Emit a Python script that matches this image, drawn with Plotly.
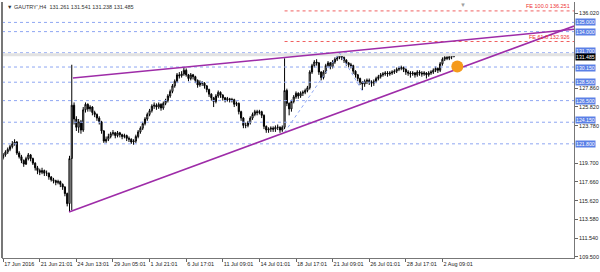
import plotly.graph_objects as go

# ---------------- data ----------------
first_open = 120.3
closes = [
    120.6, 120.9, 121.2, 121.5, 121.8, 122.0, 120.8, 120.4, 120.0, 119.6,
    120.2, 120.6, 120.2, 119.7, 119.2, 118.9, 118.7, 118.9, 118.6, 118.6,
    118.2, 117.9, 117.8, 117.6, 117.7, 117.4, 117.1, 116.4, 115.3, 120.2,
    126.0, 124.5, 123.6, 124.2, 123.3, 125.5, 126.1, 125.6, 125.8, 125.2,
    125.0, 124.6, 124.2, 123.2, 122.1, 122.3, 122.6, 122.9, 123.0, 122.7,
    123.0, 122.8, 122.6, 122.7, 122.4, 122.3, 122.0, 122.1, 122.6, 123.1,
    123.5, 124.0, 124.5, 125.0, 125.4, 125.9, 126.0, 125.8, 126.1, 125.7,
    126.2, 126.5, 127.0, 127.5, 128.1, 128.6, 129.3, 129.2, 129.4, 129.8,
    129.3, 128.9, 129.3, 129.1, 128.7, 128.2, 128.5, 128.4, 128.1, 127.7,
    127.2, 126.8, 126.4, 127.0, 127.4, 127.1, 126.8, 126.6, 126.7, 126.6,
    126.6, 126.1, 126.2, 125.3, 124.6, 123.8, 123.8, 124.1, 124.6, 125.0,
    125.3, 125.2, 125.3, 124.9, 123.7, 123.3, 123.4, 123.5, 123.4, 123.6,
    123.6, 123.3, 123.6, 127.6, 126.2, 125.6, 126.4, 126.9, 127.3, 127.0,
    127.3, 127.4, 127.6, 127.9, 129.6, 130.3, 130.7, 130.6, 129.6, 129.0,
    129.6, 130.3, 130.6, 130.2, 130.7, 131.0, 131.2, 131.4, 131.2, 130.9,
    130.6, 130.4, 130.3, 129.7, 129.3, 128.9, 128.5, 128.3, 128.6, 128.7,
    128.5, 128.4, 128.6, 128.9, 129.1, 129.3, 129.4, 129.5, 129.4, 129.5,
    129.6, 129.7, 129.9, 130.0, 130.1, 129.9, 129.6, 129.5, 129.4, 129.5,
    129.3, 129.6, 129.5, 129.4, 129.5, 129.3, 129.5, 129.6, 129.8, 130.0,
    129.8, 130.5, 131.0, 131.2, 131.1, 131.3, 131.261, 131.485,
]
highs = [
    120.8, 121.1, 121.4, 121.7, 122.1, 122.3, 122.1, 121.0, 120.6, 120.1,
    120.4, 120.8, 120.7, 120.3, 119.8, 119.4, 119.1, 119.2, 119.0, 118.9,
    118.7, 118.3, 118.1, 117.9, 117.9, 117.8, 117.5, 117.2, 116.5, 120.5,
    130.4, 126.3, 124.8, 124.5, 124.4, 125.8, 126.3, 126.2, 126.0, 125.9,
    125.4, 125.1, 124.8, 124.3, 123.3, 122.6, 122.9, 123.1, 123.3, 123.1,
    123.2, 123.1, 122.9, 122.9, 122.8, 122.6, 122.4, 122.3, 122.8, 123.3,
    123.7, 124.2, 124.7, 125.2, 125.6, 126.1, 126.3, 126.2, 126.3, 126.2,
    126.4, 126.7, 127.2, 127.7, 128.3, 128.8, 129.5, 129.6, 129.7, 130.05,
    130.0, 129.4, 129.5, 129.4, 129.2, 128.8, 128.7, 128.6, 128.5, 128.2,
    127.8, 127.3, 126.9, 127.2, 127.6, 127.5, 127.2, 126.9, 126.9, 126.8,
    126.8, 126.7, 126.4, 126.3, 125.4, 124.7, 124.1, 124.3, 124.8, 125.2,
    125.5, 125.5, 125.5, 125.4, 125.0, 123.8, 123.6, 123.7, 123.7, 123.8,
    123.9, 123.7, 123.8, 131.1, 127.8, 126.3, 126.6, 127.1, 127.5, 127.4,
    127.5, 127.6, 127.8, 128.1, 129.8, 130.5, 130.9, 131.0, 130.7, 129.7,
    129.8, 130.5, 130.8, 130.7, 130.9, 131.2, 131.4, 131.7, 131.6, 131.3,
    131.0, 130.7, 130.6, 130.4, 129.8, 129.4, 129.0, 128.6, 128.8, 128.9,
    128.9, 128.7, 128.8, 129.1, 129.3, 129.5, 129.6, 129.7, 129.7, 129.7,
    129.8, 129.9, 130.1, 130.2, 130.3, 130.2, 130.0, 129.8, 129.7, 129.7,
    129.6, 129.8, 129.8, 129.7, 129.7, 129.6, 129.7, 129.8, 130.0, 130.2,
    130.1, 130.7, 131.2, 131.4, 131.4, 131.5, 131.5, 131.541,
]
lows = [
    120.1, 120.4, 120.7, 121.0, 121.3, 121.6, 120.6, 120.2, 119.7, 119.3,
    119.5, 120.0, 119.9, 119.5, 118.9, 118.5, 118.4, 118.5, 118.3, 118.3,
    117.9, 117.7, 117.5, 117.3, 117.4, 117.1, 116.8, 116.1, 115.0, 114.4,
    114.6, 123.9, 123.2, 123.0, 122.9, 123.1, 125.2, 125.3, 125.3, 124.9,
    124.7, 124.3, 123.9, 122.9, 121.9, 121.9, 122.1, 122.4, 122.7, 122.4,
    122.5, 122.5, 122.3, 122.4, 122.1, 122.0, 121.8, 121.7, 121.9, 122.4,
    122.9, 123.3, 123.8, 124.3, 124.8, 125.2, 125.6, 125.5, 125.6, 125.4,
    125.5, 126.0, 126.3, 126.8, 127.3, 127.9, 128.4, 128.9, 129.0, 129.2,
    129.1, 128.6, 128.7, 128.8, 128.4, 127.9, 128.0, 128.1, 127.8, 127.4,
    126.9, 126.5, 125.8, 126.2, 126.8, 126.8, 126.5, 126.3, 126.4, 126.3,
    126.3, 125.8, 125.9, 125.0, 124.3, 123.5, 123.5, 123.6, 123.9, 124.4,
    124.8, 124.9, 125.0, 124.6, 123.4, 123.0, 123.0, 123.1, 123.1, 123.1,
    123.3, 123.0, 123.1, 123.4, 125.9, 124.9, 125.3, 126.2, 126.7, 126.7,
    126.8, 127.0, 127.2, 127.4, 127.7, 129.4, 130.1, 130.3, 129.3, 128.7,
    128.8, 129.4, 130.1, 129.9, 130.0, 130.5, 130.8, 131.0, 130.9, 130.6,
    130.3, 130.1, 130.0, 129.4, 129.0, 128.6, 128.2, 127.65, 128.0, 128.3,
    128.2, 128.0, 128.1, 128.4, 128.7, 128.9, 129.1, 129.2, 129.1, 129.2,
    129.3, 129.4, 129.5, 129.7, 129.8, 129.6, 129.3, 129.2, 129.0, 129.2,
    129.0, 129.1, 129.2, 129.1, 129.2, 128.9, 129.1, 129.3, 129.4, 129.6,
    129.5, 129.6, 130.3, 130.8, 130.9, 130.9, 131.0, 131.238,
]
opens = [first_open] + closes[:-1]
bars = list(range(len(closes)))

x_tick_bars = [0, 16, 32, 48, 64, 80, 96, 112, 128, 144, 160, 176, 192]
x_tick_labels = ["17 Jun 2016", "21 Jun 21:01", "24 Jun 13:01", "29 Jun 05:01",
                 "1 Jul 21:01", "6 Jul 17:01", "11 Jul 09:01", "14 Jul 01:01",
                 "18 Jul 17:01", "21 Jul 09:01", "26 Jul 01:01", "28 Jul 17:01",
                 "2 Aug 09:01"]
# visible scale labels (the others are hidden under the level labels)
y_ticks = [109.5, 111.54, 113.58, 115.62, 117.66, 119.7, 123.78,
           125.82, 127.86, 136.02]

level_prices = [135.0, 134.0, 131.7, 130.15, 128.5, 126.5, 124.15, 121.8]
current_price = 131.485
header = "GAUTRY',H4  131.261 131.541 131.238 131.485"

upper_trend_x = [30.5, 249.5]
upper_trend_y = [128.95, 134.25]
lower_trend_x = [28.8, 249.5]
lower_trend_y = [114.4, 134.6]

fe_x = [123, 147, 157]
fe_y = [123.05, 131.7, 127.55]
fe_levels = [136.251, 132.926]
fe_names = ["FE 100.0", "FE 61.8"]

marker_x = [198.5]
marker_y = [130.2]

x_range = [-0.5, 249.5]
y_range = [109.39, 137.22]

# ---------------- figure ----------------
BLUE_DOT = "#8ea6f2"
PURPLE = "#9e2ca8"
fig = go.Figure()

for p in level_prices:
    fig.add_trace(go.Scatter(x=x_range, y=[p, p], mode="lines",
                             line=dict(color=BLUE_DOT, width=1, dash="dot"),
                             hoverinfo="skip"))
fig.add_trace(go.Scatter(x=x_range, y=[current_price, current_price], mode="lines",
                         line=dict(color="#e2e2e2", width=3), hoverinfo="skip"))
for lv in fe_levels:
    fig.add_trace(go.Scatter(x=[fe_x[0], x_range[1]], y=[lv, lv], mode="lines",
                             line=dict(color="#f06060", width=1, dash="dot"),
                             hoverinfo="skip"))
fig.add_trace(go.Scatter(x=fe_x, y=fe_y, mode="lines",
                         line=dict(color=BLUE_DOT, width=1, dash="dot"),
                         hoverinfo="skip"))

fig.add_trace(go.Candlestick(
    x=bars, open=opens, high=highs, low=lows, close=closes,
    increasing=dict(line=dict(color="#000000", width=1), fillcolor="#ffffff"),
    decreasing=dict(line=dict(color="#000000", width=1), fillcolor="#000000"),
    whiskerwidth=0, hoverinfo="skip"))

fig.add_trace(go.Scatter(x=upper_trend_x, y=upper_trend_y, mode="lines",
                         line=dict(color=PURPLE, width=1.6), hoverinfo="skip"))
fig.add_trace(go.Scatter(x=lower_trend_x, y=lower_trend_y, mode="lines",
                         line=dict(color=PURPLE, width=1.6), hoverinfo="skip"))
fig.add_trace(go.Scatter(x=marker_x, y=marker_y, mode="markers",
                         marker=dict(color="#f59a1b", size=12, line=dict(width=0)),
                         hoverinfo="skip"))

FONT = "Liberation Sans"
shift = {131.7: 2, 130.15: -1, 124.15: 2}
ann = []
for p in level_prices:
    ann.append(dict(xref="paper", yref="y", x=1.0, y=p, xanchor="left", yanchor="middle",
                    xshift=1, yshift=shift.get(p, 0), text=f"{p:.3f}", showarrow=False,
                    bgcolor="#5b80e6", borderpad=0,
                    font=dict(family=FONT, size=5.2, color="white")))
ann.append(dict(xref="paper", yref="y", x=1.0, y=current_price, xanchor="left",
                yanchor="middle", xshift=1, yshift=-2, text=f"{current_price:.3f}",
                showarrow=False, bgcolor="#000000", borderpad=0,
                font=dict(family=FONT, size=5.2, color="white")))
for name, lv in zip(fe_names, fe_levels):
    ann.append(dict(xref="paper", yref="y", x=1.0, y=lv, xanchor="right", yanchor="bottom",
                    xshift=-2, text=f"{name} {lv:.3f}", showarrow=False,
                    font=dict(family=FONT, size=5.5, color="#ee3333")))
ann.append(dict(xref="paper", yref="paper", x=0.005, y=1.0, xanchor="left", yanchor="top",
                text="\u25bc " + header, showarrow=False,
                font=dict(family=FONT, size=5.5, color="#333333")))
ann.append(dict(xref="x", yref="paper", x=201, y=1.0, xanchor="center", yanchor="top",
                yshift=2, text="\u25bc", showarrow=False,
                font=dict(family=FONT, size=6, color="#a0a0a0")))

fig.update_layout(
    width=600, height=272,
    margin=dict(l=2, r=26, t=2, b=14, autoexpand=False),
    plot_bgcolor="white", paper_bgcolor="white",
    showlegend=False,
    annotations=ann,
    xaxis=dict(range=x_range, rangeslider=dict(visible=False), showgrid=False,
               zeroline=False, tickmode="array", tickvals=x_tick_bars,
               ticktext=x_tick_labels, ticks="outside", ticklen=3, tickcolor="#666",
               tickangle=0, automargin=False,
               ticklabelposition="outside right", showline=True, linecolor="#777",
               linewidth=1, tickfont=dict(family=FONT, size=5.5, color="#222")),
    yaxis=dict(range=y_range, side="right", showgrid=False, zeroline=False,
               tickmode="array", tickvals=y_ticks, automargin=False,
               ticktext=[f"{v:.3f}" for v in y_ticks], ticks="outside", ticklen=3,
               tickcolor="#666", showline=True, linecolor="#777", linewidth=1,
               tickfont=dict(family=FONT, size=5.5, color="#222")),
    shapes=[dict(type="line", xref="paper", yref="paper", x0=0, x1=0, y0=0, y1=1,
                 line=dict(color="#777", width=2))],
)

fig.write_html("out.html")
